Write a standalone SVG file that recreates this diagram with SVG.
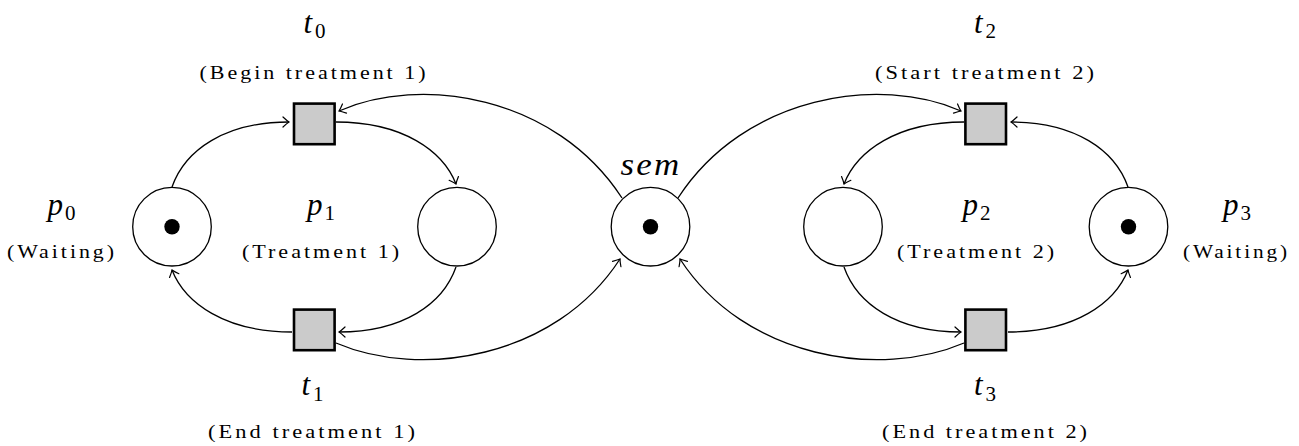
<svg xmlns="http://www.w3.org/2000/svg" width="1299" height="446" viewBox="0 0 1299 446">
  <style>
    .place { fill: #ffffff; stroke: #000000; stroke-width: 1.3; }
    .token { fill: #000000; stroke: none; }
    .trans { fill: #cbcbcb; stroke: #000000; stroke-width: 2.6; }
    .arc { fill: none; stroke: #000000; stroke-width: 1.3; marker-end: url(#tip); }
    .math { font-family: "Liberation Serif", "DejaVu Serif", serif; font-size: 31px; font-style: italic; fill: #000000; }
    .sub { font-style: normal; font-size: 21px; }
    .note { font-family: "Liberation Serif", "DejaVu Serif", serif; font-size: 18.5px; letter-spacing: 2.5px; fill: #000000; }
  </style>
  <defs>
    <marker id="tip" viewBox="-8 -7 10 14" refX="0" refY="0" markerWidth="10" markerHeight="14" markerUnits="userSpaceOnUse" orient="auto" overflow="visible">
      <path d="M-6,-5 Q-2,-1.2 0,0 Q-2,1.2 -6,5" fill="none" stroke="#000000" stroke-width="1.2" stroke-linecap="round"/>
    </marker>
  </defs>

  <rect width="1299" height="446" fill="#ffffff"/>

  <!-- arcs -->
  <g id="connectors">
    <path class="arc" d="M172,187 C185,150 225,122 289,122"/>
    <path class="arc" d="M336,122 C403,122 443,151 456,184"/>
    <path class="arc" d="M456,267 C443,304 403,332 339,332"/>
    <path class="arc" d="M292,332 C225,332 185,303 172,270"/>
    <path class="arc" d="M622,198 C555,95 420,75 339,111"/>
    <path class="arc" d="M336,343 C420,379 555,359 620,259"/>
    <path class="arc" d="M678,198 C745,95 880,75 961,111"/>
    <path class="arc" d="M964,343 C880,379 745,359 680,259"/>
    <path class="arc" d="M1128,187 C1115,150 1075,122 1011,122"/>
    <path class="arc" d="M964,122 C897,122 857,151 844,184"/>
    <path class="arc" d="M844,267 C857,304 897,332 961,332"/>
    <path class="arc" d="M1008,332 C1075,332 1115,303 1128,270"/>
  </g>

  <!-- places -->
  <g id="p0">
    <circle class="place" cx="172" cy="226.7" r="39.3"/>
    <circle class="token" cx="172" cy="226.7" r="7.7"/>
    <text class="math" x="61.5" y="214.5" text-anchor="middle">p<tspan class="sub" dx="2" dy="5">0</tspan></text>
    <text class="note" x="62" y="258" text-anchor="middle" textLength="110" lengthAdjust="spacingAndGlyphs">(Waiting)</text>
  </g>
  <g id="p1">
    <circle class="place" cx="457" cy="226.7" r="39.3"/>
    <text class="math" x="321" y="214.5" text-anchor="middle">p<tspan class="sub" dx="2" dy="5">1</tspan></text>
    <text class="note" x="322" y="258" text-anchor="middle" textLength="160" lengthAdjust="spacingAndGlyphs">(Treatment 1)</text>
  </g>
  <g id="sem">
    <circle class="place" cx="650.5" cy="226.7" r="39.3"/>
    <circle class="token" cx="650.5" cy="226.7" r="7.7"/>
    <text class="math" x="651" y="175" text-anchor="middle" letter-spacing="2" textLength="61" lengthAdjust="spacingAndGlyphs">sem</text>
  </g>
  <g id="p2">
    <circle class="place" cx="843" cy="226.7" r="39.3"/>
    <text class="math" x="976.5" y="214.5" text-anchor="middle">p<tspan class="sub" dx="2" dy="5">2</tspan></text>
    <text class="note" x="977" y="258" text-anchor="middle" textLength="160" lengthAdjust="spacingAndGlyphs">(Treatment 2)</text>
  </g>
  <g id="p3">
    <circle class="place" cx="1128.5" cy="226.7" r="39.3"/>
    <circle class="token" cx="1128.5" cy="226.7" r="7.7"/>
    <text class="math" x="1237" y="214.5" text-anchor="middle">p<tspan class="sub" dx="2" dy="5">3</tspan></text>
    <text class="note" x="1236.5" y="258" text-anchor="middle" textLength="107" lengthAdjust="spacingAndGlyphs">(Waiting)</text>
  </g>

  <!-- transitions -->
  <g id="t0">
    <rect class="trans" x="294" y="103.6" width="40.6" height="40.6"/>
    <text class="math" x="314.5" y="33" text-anchor="middle">t<tspan class="sub" dx="3" dy="4.5">0</tspan></text>
    <text class="note" x="314" y="79" text-anchor="middle" textLength="229" lengthAdjust="spacingAndGlyphs">(Begin treatment 1)</text>
  </g>
  <g id="t1">
    <rect class="trans" x="294" y="309.6" width="40.6" height="40.6"/>
    <text class="math" x="312.5" y="395" text-anchor="middle">t<tspan class="sub" dx="3" dy="5.5">1</tspan></text>
    <text class="note" x="313" y="437.5" text-anchor="middle" textLength="210" lengthAdjust="spacingAndGlyphs">(End treatment 1)</text>
  </g>
  <g id="t2">
    <rect class="trans" x="965.4" y="103.6" width="40.6" height="40.6"/>
    <text class="math" x="985" y="33" text-anchor="middle">t<tspan class="sub" dx="3" dy="4.5">2</tspan></text>
    <text class="note" x="986" y="79" text-anchor="middle" textLength="222" lengthAdjust="spacingAndGlyphs">(Start treatment 2)</text>
  </g>
  <g id="t3">
    <rect class="trans" x="965.4" y="309.6" width="40.6" height="40.6"/>
    <text class="math" x="985" y="395" text-anchor="middle">t<tspan class="sub" dx="3" dy="5.5">3</tspan></text>
    <text class="note" x="986" y="437.5" text-anchor="middle" textLength="208" lengthAdjust="spacingAndGlyphs">(End treatment 2)</text>
  </g>
</svg>
